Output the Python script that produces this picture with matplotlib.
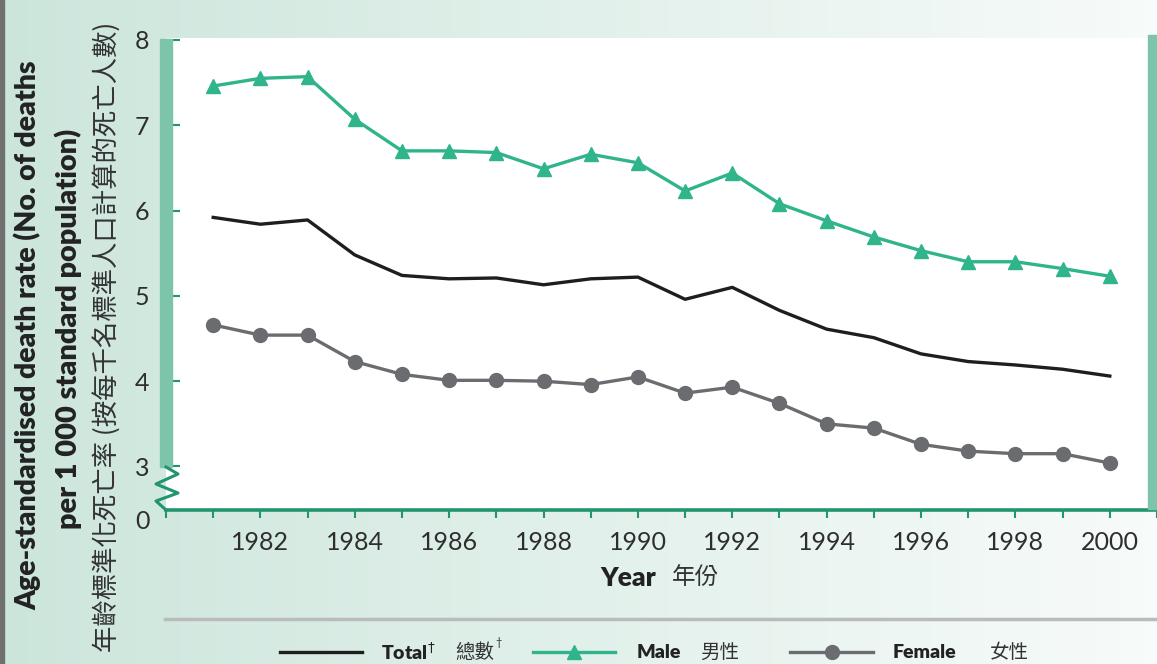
import matplotlib.pyplot as plt
import numpy as np
from matplotlib.lines import Line2D
from matplotlib.patches import Rectangle

plt.rcParams['font.family'] = ['Lato', 'Noto Sans CJK TC', 'DejaVu Sans']

years = list(range(1981, 2001))
total = [5.92, 5.84, 5.89, 5.48, 5.24, 5.20, 5.21, 5.13, 5.20, 5.22,
         4.96, 5.10, 4.83, 4.61, 4.51, 4.32, 4.23, 4.19, 4.14, 4.06]
male = [7.46, 7.55, 7.57, 7.07, 6.70, 6.70, 6.68, 6.49, 6.66, 6.56,
        6.23, 6.44, 6.08, 5.88, 5.69, 5.53, 5.40, 5.40, 5.32, 5.23]
female = [4.66, 4.54, 4.54, 4.23, 4.08, 4.01, 4.01, 4.00, 3.96, 4.05,
          3.86, 3.93, 3.74, 3.50, 3.45, 3.26, 3.18, 3.15, 3.15, 3.04]
year_ticks = list(range(1980, 2002))
year_labels = [str(y) if (y % 2 == 0 and 1982 <= y <= 2000) else '' for y in year_ticks]
rate_ticks = [3, 4, 5, 6, 7, 8]

W, H = 1157, 664
c_male = '#2fb48b'
c_total = '#1e1e1e'
c_female = '#6b6c70'
c_bar = '#7cc5aa'
c_axis = '#21956f'
c_num = '#2e2e2e'


def fx(x):
    return x / W


def fy(y):
    return 1 - y / H


fig = plt.figure(figsize=(W / 100, H / 100), dpi=100)

# background gradient
bg = fig.add_axes([0, 0, 1, 1], zorder=-5)
grad = np.linspace(0, 1, 256).reshape(1, -1)
left = np.array([0.80, 0.90, 0.86])
right = np.array([0.97, 0.985, 0.98])
img = left[None, None, :] * (1 - grad[..., None]) + right[None, None, :] * grad[..., None]
bg.imshow(img, aspect='auto', extent=[0, 1, 0, 1])
bg.add_patch(Rectangle((0, 0), fx(4), 1, color='#707070'))
bg.plot([fx(165), 1], [fy(619), fy(619)], color='#b9bbbd', lw=2.5)
bg.set_xlim(0, 1)
bg.set_ylim(0, 1)
bg.axis('off')

# main axes
ax = fig.add_axes([fx(166), fy(510), 1 - fx(166), (510 - 38) / H])
ax.set_facecolor('white')
ax.plot(years, total, color=c_total, lw=2.4, zorder=3)
ax.plot(years, male, color=c_male, lw=2.4, marker='^', ms=10, zorder=3)
ax.plot(years, female, color=c_female, lw=2.4, marker='o', ms=10, zorder=3)
ax.set_xlim(1980, 2001)
ax.set_ylim(2.49, 8.023)

for s in ['top', 'right', 'left']:
    ax.spines[s].set_visible(False)
ax.spines['bottom'].set_color(c_axis)
ax.spines['bottom'].set_linewidth(2.6)

ax.set_xticks(year_ticks)
ax.set_xticklabels(year_labels)
ax.set_yticks(rate_ticks)
ax.set_yticklabels([str(v) for v in rate_ticks])
ax.tick_params(axis='x', direction='out', length=6, width=1.5, color=c_axis,
               pad=9, labelsize=18, labelcolor=c_num)
ax.tick_params(axis='y', direction='in', length=10, width=1.5, color=c_axis,
               pad=12, labelsize=18, labelcolor=c_num)
ax.text(-0.0165, 0, '0', transform=ax.transAxes, ha='right', va='top',
        fontsize=18, color=c_num)

# green side bars and axis break
fig.patches.append(Rectangle((fx(160), fy(467)), fx(12), (467 - 39) / H,
                             transform=fig.transFigure, color=c_bar, zorder=5))
fig.patches.append(Rectangle((fx(1148), fy(509)), fx(9), (509 - 35) / H,
                             transform=fig.transFigure, color=c_bar, zorder=5))
zx = [166, 178, 156, 178, 156, 166]
zy = [467, 474, 484, 493, 501, 510]
fig.lines.append(Line2D([fx(x) for x in zx], [fy(y) for y in zy],
                        transform=fig.transFigure, color=c_axis, lw=2.2, zorder=6))

# axis titles
fig.text(fx(656), fy(578), 'Year', ha='right', va='center', fontsize=19,
         fontweight='heavy', color='#222222')
fig.text(fx(672), fy(578), '年份', ha='left', va='center', fontsize=17,
         color='#333333', family=['Noto Sans CJK TC'])
fig.text(fx(28), fy(335), 'Age-standardised death rate (No. of deaths',
         rotation=90, ha='center', va='center', fontsize=20.4, fontweight='heavy',
         color='#222222')
fig.text(fx(68), fy(329), 'per 1 000 standard population)',
         rotation=90, ha='center', va='center', fontsize=20.8, fontweight='heavy',
         color='#222222')
fig.text(fx(107), fy(337), '年齡標準化死亡率 (按每千名標準人口計算的死亡人數)',
         rotation=90, ha='center', va='center', fontsize=19, color='#333333',
         family=['Noto Sans CJK TC', 'DejaVu Sans'])

# legend
ly = fy(652)
fig.lines.append(Line2D([fx(280), fx(362)], [ly, ly], transform=fig.transFigure,
                        color=c_total, lw=2.4))
fig.text(fx(381), ly, 'Total$^{\\dagger}$', ha='left', va='center', fontsize=14,
         fontweight='heavy', color='#222222')
fig.text(fx(455), ly, '總數', ha='left', va='center', fontsize=14,
         color='#333333', family=['Noto Sans CJK TC'])
fig.text(fx(495), fy(643), '†', ha='left', va='center', fontsize=8, color='#333333')
fig.lines.append(Line2D([fx(533), fx(615)], [ly, ly], transform=fig.transFigure,
                        color=c_male, lw=2.4))
fig.lines.append(Line2D([fx(574)], [ly], transform=fig.transFigure, color=c_male,
                        marker='^', ms=10))
fig.text(fx(637), ly, 'Male', ha='left', va='center', fontsize=14,
         fontweight='heavy', color='#222222')
fig.text(fx(700), ly, '男性', ha='left', va='center', fontsize=14,
         color='#333333', family=['Noto Sans CJK TC'])
fig.lines.append(Line2D([fx(790), fx(873)], [ly, ly], transform=fig.transFigure,
                        color=c_female, lw=2.4))
fig.lines.append(Line2D([fx(832)], [ly], transform=fig.transFigure, color=c_female,
                        marker='o', ms=10))
fig.text(fx(893), ly, 'Female', ha='left', va='center', fontsize=14,
         fontweight='heavy', color='#222222')
fig.text(fx(990), ly, '女性', ha='left', va='center', fontsize=14,
         color='#333333', family=['Noto Sans CJK TC'])

fig.savefig('out.png', dpi=100)
